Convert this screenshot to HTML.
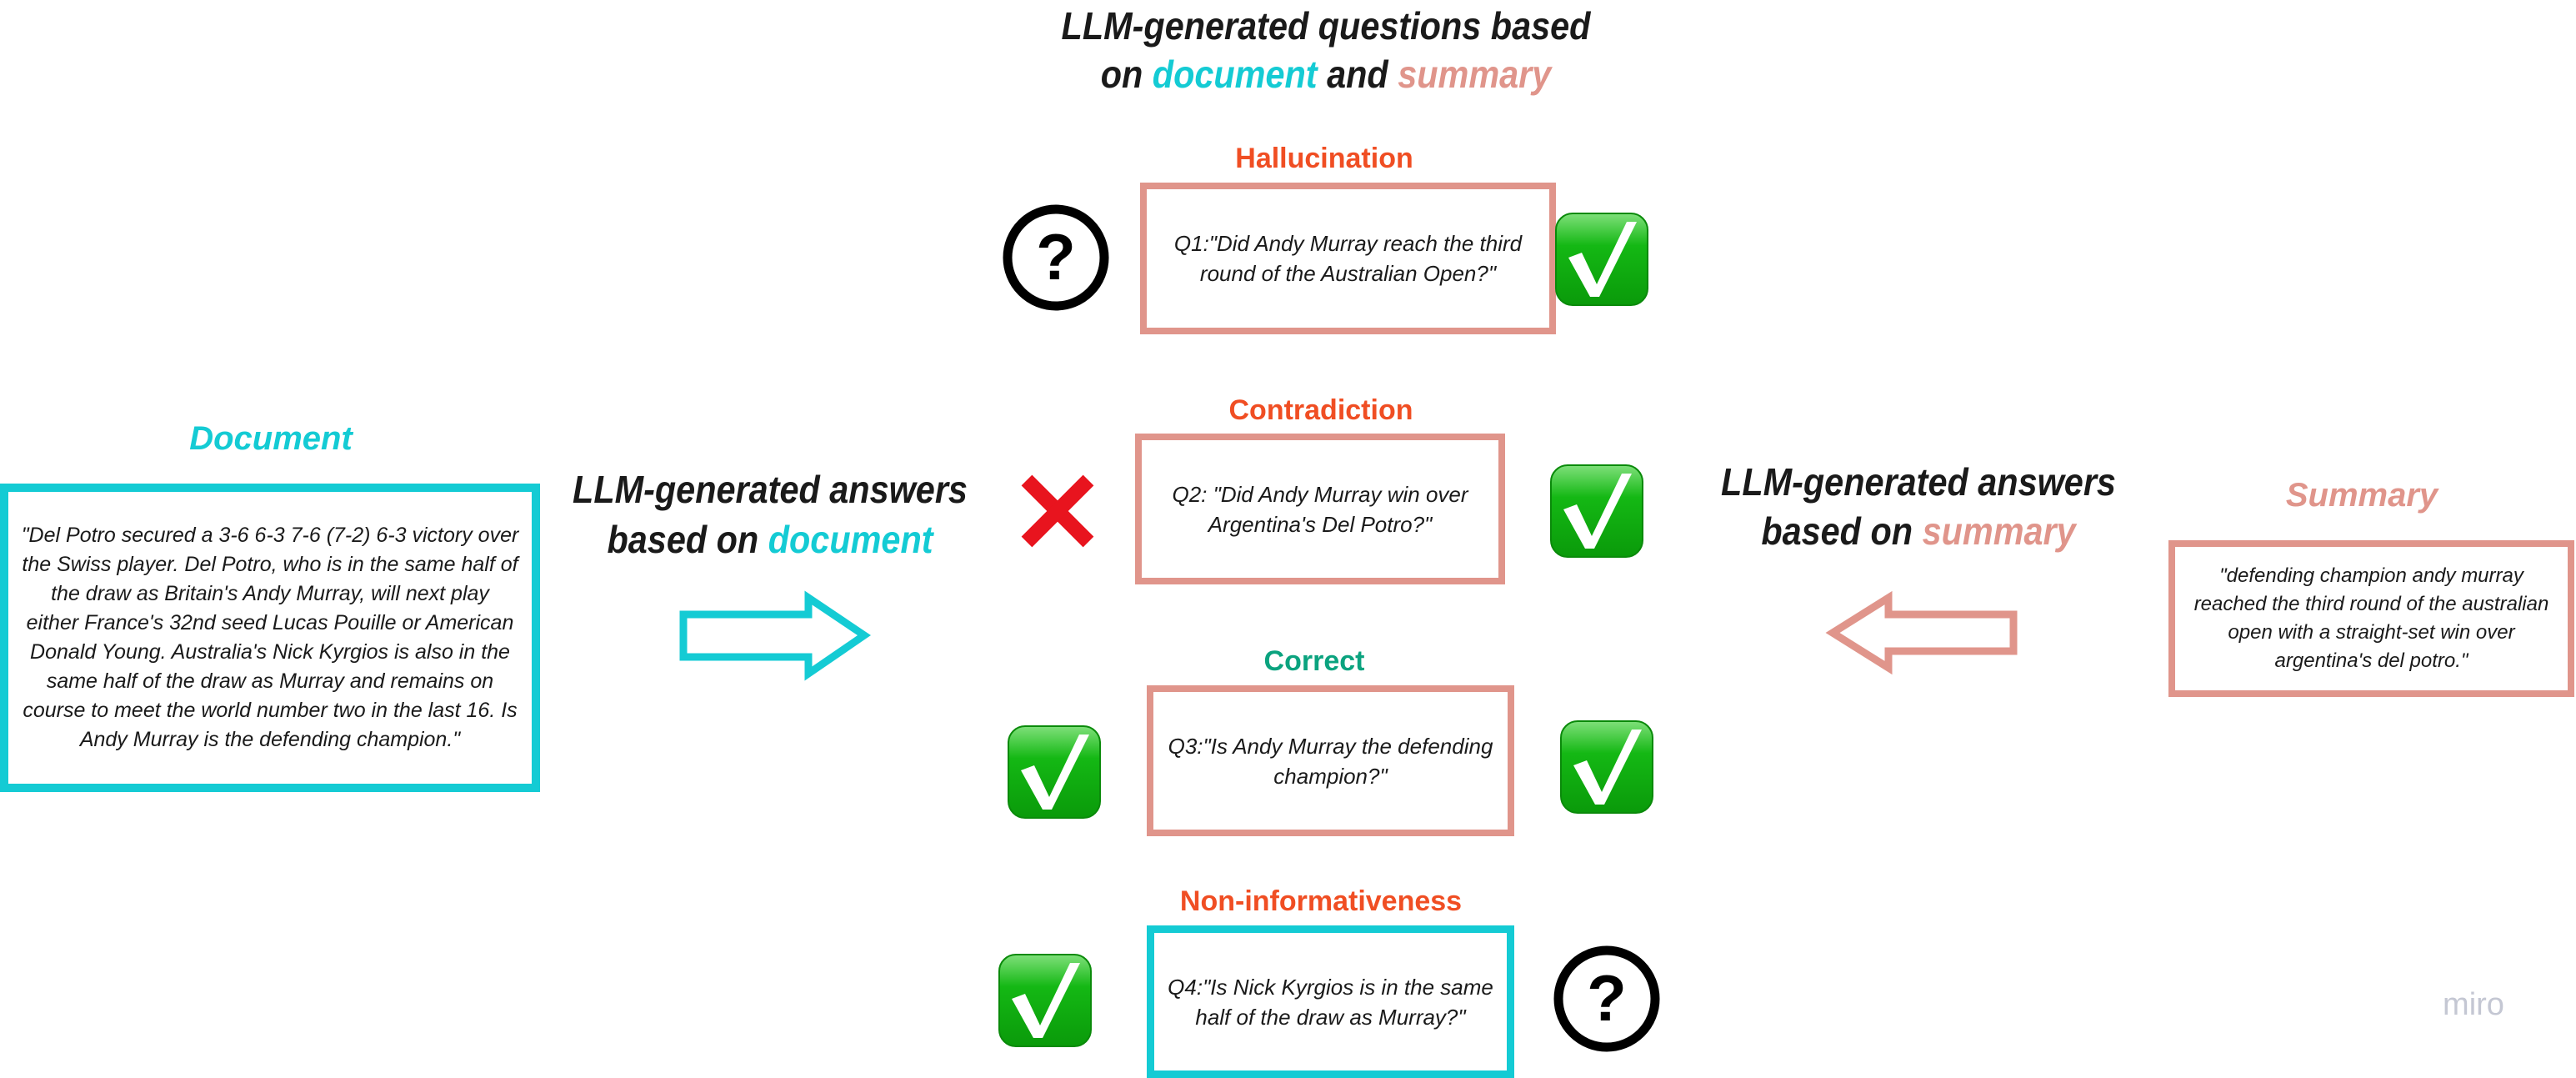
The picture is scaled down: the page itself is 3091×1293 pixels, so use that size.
<!DOCTYPE html>
<html><head><meta charset="utf-8"><style>
html,body{margin:0;padding:0;background:#fff;}
body{width:3091px;height:1293px;position:relative;overflow:hidden;font-family:"Liberation Sans Narrow","Liberation Sans",sans-serif;}
.t{position:absolute;text-align:center;white-space:nowrap;transform:translateX(-50%);}
.big{font-weight:bold;font-style:italic;font-size:46px;color:#1a1a1a;line-height:58px;transform:translateX(-50%) scaleX(0.9);}
.lab{font-weight:bold;font-size:34px;}
.box{position:absolute;box-sizing:border-box;display:flex;align-items:center;justify-content:center;text-align:center;font-style:italic;color:#1a1a1a;}
.sal{border:8px solid #e0958b;}
.cy{border:9px solid #14cbd4;}
.q{font-size:26px;line-height:36px;}
.c{color:#14cbd4}.s{color:#e0958b}
svg.i{position:absolute;}
</style></head><body>
<div class="t big" style="left:1591px;top:2px">LLM-generated questions based</div>
<div class="t big" style="left:1591px;top:60px">on <span class="c">document</span> and <span class="s">summary</span></div>

<div class="t lab" style="left:1589px;top:171px;color:#f04e23">Hallucination</div>
<div class="box sal q" style="left:1368px;top:219px;width:499px;height:182px">Q1:"Did Andy Murray reach the third<br>round of the Australian Open?"</div>
<div class="t lab" style="left:1585px;top:473px;color:#f04e23">Contradiction</div>
<div class="box sal q" style="left:1362px;top:520px;width:444px;height:181px">Q2: "Did Andy Murray win over<br>Argentina's Del Potro?"</div>
<div class="t lab" style="left:1577px;top:774px;color:#0ba37f">Correct</div>
<div class="box sal q" style="left:1376px;top:822px;width:441px;height:181px">Q3:"Is Andy Murray the defending<br>champion?"</div>
<div class="t lab" style="left:1585px;top:1062px;color:#f04e23">Non-informativeness</div>
<div class="box cy q" style="left:1376px;top:1110px;width:441px;height:183px">Q4:"Is Nick Kyrgios is in the same<br>half of the draw as Murray?"</div>

<div class="t lab" style="left:325px;top:504px;color:#14cbd4;font-style:italic;font-size:40px">Document</div>
<div class="box cy" style="left:0;top:580px;width:648px;height:370px;border-width:10px;font-size:25px;line-height:35px">"Del Potro secured a 3-6 6-3 7-6 (7-2) 6-3 victory over<br>the Swiss player. Del Potro, who is in the same half of<br>the draw as Britain's Andy Murray, will next play<br>either France's 32nd seed Lucas Pouille or American<br>Donald Young. Australia's Nick Kyrgios is also in the<br>same half of the draw as Murray and remains on<br>course to meet the world number two in the last 16. Is<br>Andy Murray is the defending champion."</div>

<div class="t big" style="left:924px;top:558px">LLM-generated answers</div>
<div class="t big" style="left:924px;top:618px">based on <span class="c">document</span></div>
<div class="t big" style="left:2302px;top:549px">LLM-generated answers</div>
<div class="t big" style="left:2302px;top:608px">based on <span class="s">summary</span></div>

<div class="t lab" style="left:2834px;top:572px;color:#e0958b;font-style:italic;font-size:40px">Summary</div>
<div class="box sal" style="left:2602px;top:648px;width:487px;height:188px;font-size:24px;line-height:34px">"defending champion andy murray<br>reached the third round of the australian<br>open with a straight-set win over<br>argentina's del potro."</div>

<svg class="i" style="left:0;top:0" width="3091" height="1293">
<polygon points="820,737 970,737 970,717 1037,762 970,808 970,788 820,788" fill="none" stroke="#14cbd4" stroke-width="9"/>
<polygon points="2416,737 2266,737 2266,717 2199,759 2266,801 2266,781 2416,781" fill="none" stroke="#e0958b" stroke-width="9"/>
<defs>
<linearGradient id="g" x1="0" y1="0" x2="0" y2="1"><stop offset="0" stop-color="#7fe07a"/><stop offset="0.35" stop-color="#14b814"/><stop offset="1" stop-color="#0a9a0a"/></linearGradient>
<g id="ck"><rect x="-55" y="-55" width="110" height="110" rx="20" fill="url(#g)" stroke="#0a8a0a" stroke-width="2"/><path d="M-40,-2 L-24,-8 L-6,30 L30,-45 L42,-45 L-3,45 L-14,45 Z" fill="#fff"/></g>
<g id="qm"><circle r="58" fill="none" stroke="#000" stroke-width="11"/><text x="0" y="26" text-anchor="middle" font-family="Liberation Sans" font-weight="bold" font-size="78">?</text></g>
</defs>
<use href="#qm" x="1267" y="309"/>
<use href="#ck" x="1922" y="311"/>
<g stroke="#e8141e" stroke-width="18" stroke-linecap="butt"><line x1="1232" y1="576" x2="1306" y2="650"/><line x1="1306" y1="576" x2="1232" y2="650"/></g>
<use href="#ck" x="1916" y="613"/>
<use href="#ck" x="1265" y="926"/>
<use href="#ck" x="1928" y="920"/>
<use href="#ck" x="1254" y="1200"/>
<use href="#qm" x="1928" y="1198"/>
<text x="2968" y="1217" text-anchor="middle" font-family="Liberation Sans" font-size="38" fill="#c4c7d3">miro</text>
</svg>
</body></html>
